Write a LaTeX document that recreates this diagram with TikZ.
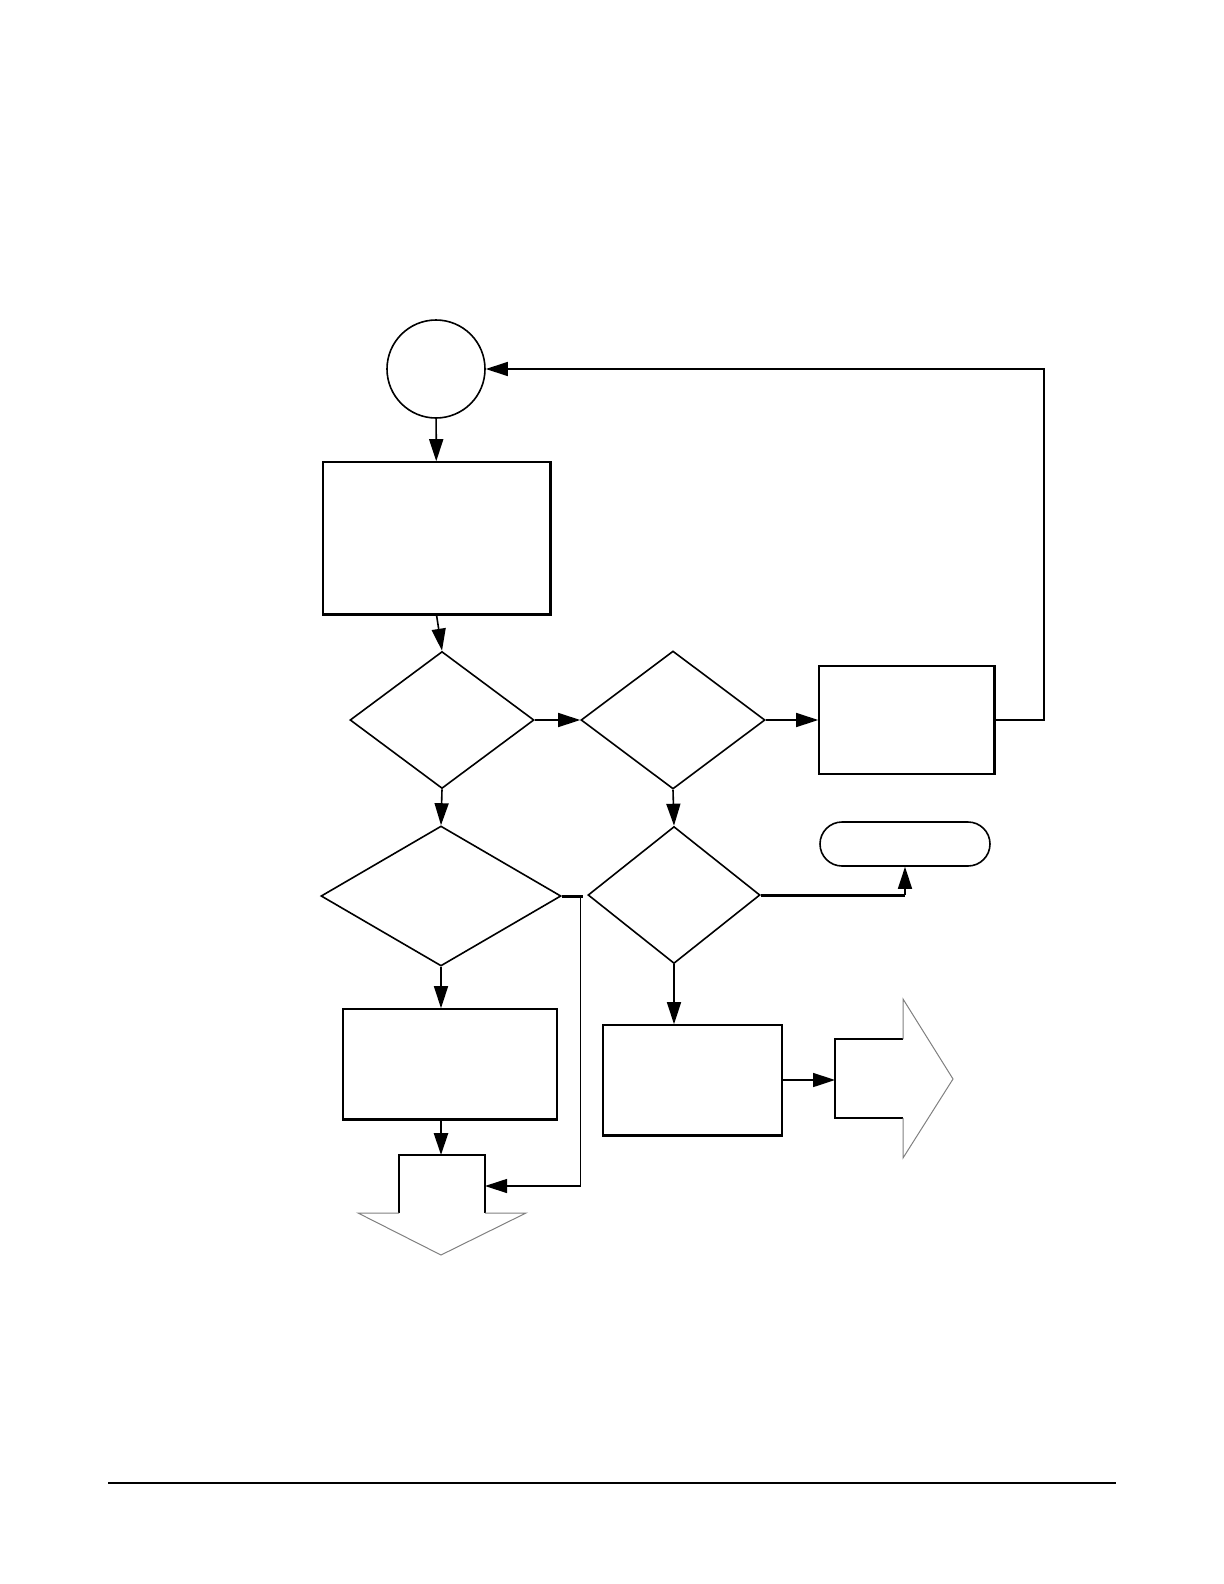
\documentclass[tikz,border=0pt]{standalone}
\usetikzlibrary{shapes.geometric,shapes.misc,arrows.meta}

\begin{document}
\begin{tikzpicture}[x=0.5pt, y=-0.5pt, line width=0.8pt,
    proc/.style={rectangle, draw, inner sep=0pt},
    dec/.style={diamond, draw, inner sep=0pt},
    arr/.style={-{Triangle[length=11pt,width=7pt]}}]
  \useasboundingbox (0,0) rectangle (1224,1584);

  \node[circle, draw, minimum size=49pt, inner sep=0pt] (start) at (436,369) {};
  \node[proc, minimum width=113.5pt, minimum height=76pt] (init) at (436.5,538) {};
  \node[dec, minimum width=92pt, minimum height=68.5pt] (d1) at (442,720) {};
  \node[dec, minimum width=92pt, minimum height=69pt] (d2) at (673,720) {};
  \node[proc, minimum width=87.5pt, minimum height=54pt] (retry) at (906.5,720) {};
  \node[dec, minimum width=120pt, minimum height=70pt] (d3) at (441,896) {};
  \node[dec, minimum width=86pt, minimum height=68.5pt] (d4) at (674,895) {};
  \node[rounded rectangle, draw, minimum width=85pt, minimum height=22pt, inner sep=0pt] (stop) at (905,844) {};
  \node[proc, minimum width=107pt, minimum height=55pt] (p3) at (450,1064) {};
  \node[proc, minimum width=89.5pt, minimum height=55pt] (p4) at (692.5,1080) {};

  % heavier edges
  \draw[line width=1.4pt] (init.north east) -- (init.south east) -- (init.south west);
  \draw[line width=1.4pt] (retry.north east) -- (retry.south east);
  \draw[line width=1.4pt] (p3.south west) -- (p3.south east);
  \draw[line width=1.4pt] (p4.south west) -- (p4.south east);

  % off-page connectors
  \coordinate (dnin) at (441,1155);
  \coordinate (dnside) at (485,1186);
  \draw (399,1213) -- (399,1155) -- (485,1155) -- (485,1213);
  \draw[gray, line width=0.5pt] (399,1213) -- (358,1213) -- (441,1255) -- (526,1213) -- (485,1213);
  \coordinate (rtin) at (835,1080);
  \draw (903,1039) -- (835,1039) -- (835,1118) -- (903,1118);
  \draw[gray, line width=0.5pt] (903,1039) -- (903,999) -- (953,1079) -- (903,1158) -- (903,1118);

  \draw[arr] (start) -- (init);
  \draw[arr] (init.south) -- (d1.north);
  \draw[arr] (d1.east) -- (d2.west);
  \draw[arr] (d2.east) -- (retry.west);
  \draw[arr] (retry.east) -- ++(49,0) |- (start.east);
  \draw[arr] (d1.south) -- (d3.north);
  \draw[arr] (d2.south) -- (d4.north);
  \draw[arr] (d3.south) -- (d3.south |- p3.north);
  \draw[arr] (d4.south) -- (d4.south |- p4.north);
  \draw[line width=1.5pt] (d4.east) -- (d4.east -| stop.south);
  \draw[arr] (d4.east -| stop.south) -- (stop.south);
  \draw[line width=1.5pt] (d3.east) -- ++(21,0);
  \draw[arr, line width=0.6pt] (d3.east) ++(19,0) |- (dnside);
  \draw[arr, line width=1.4pt] (p3.south -| dnin) -- (dnin);
  \draw[arr] (p4.east) -- (rtin);

  \draw[line width=1pt] (108,1483) -- (1116,1483);
\end{tikzpicture}
\end{document}
